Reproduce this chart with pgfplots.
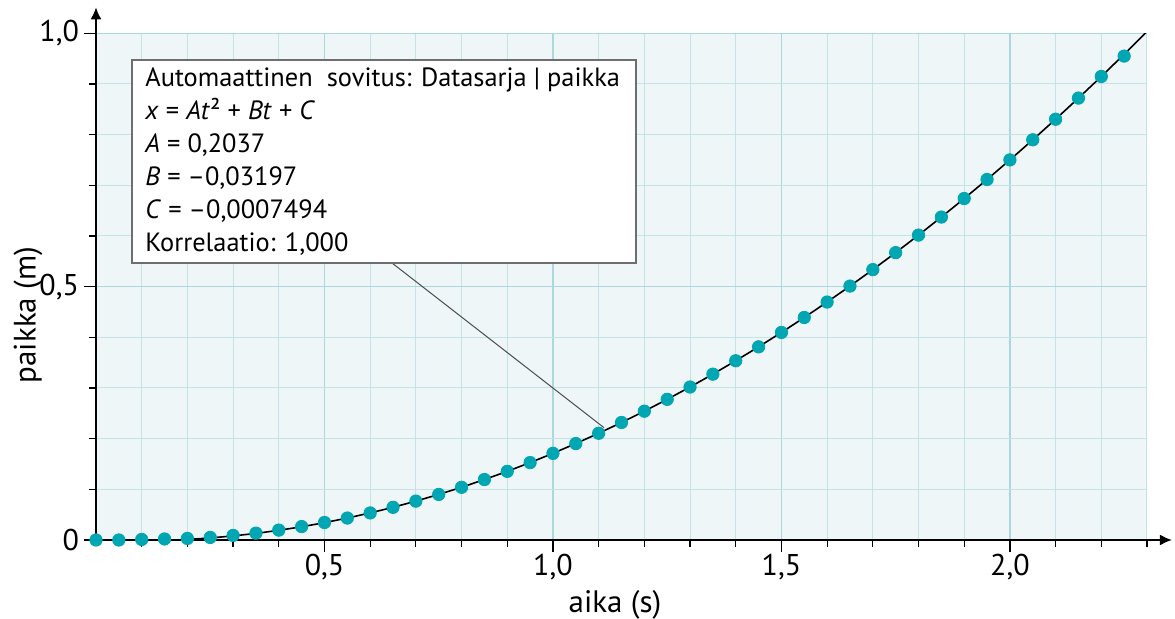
\documentclass[border=0pt]{standalone}
\usepackage{pgfplots}
\pgfplotsset{compat=1.18}
\usepackage{pgfplotstable}
\usepackage{fontspec}
\setmainfont{PT Sans}
\usetikzlibrary{arrows.meta}
\definecolor{bgcol}{RGB}{239,246,247}
\definecolor{gridminor}{RGB}{196,227,231}
\definecolor{gridmajor}{RGB}{172,215,221}
\definecolor{teal}{RGB}{0,166,178}
\definecolor{boxborder}{RGB}{110,110,110}

\pgfplotstableread{
t x
0 0.000
0.05 0.000
0.1 0.001
0.15 0.002
0.2 0.003
0.25 0.005
0.3 0.009
0.35 0.0135
0.4 0.0195
0.45 0.0265
0.5 0.0345
0.55 0.0433
0.6 0.0534
0.65 0.0645
0.7 0.0767
0.75 0.0899
0.8 0.1040
0.85 0.1193
0.9 0.1355
0.95 0.1527
1.0 0.1710
1.05 0.1903
1.1 0.2106
1.15 0.2319
1.2 0.2542
1.25 0.2776
1.3 0.3019
1.35 0.3273
1.4 0.3537
1.45 0.3812
1.5 0.4096
1.55 0.4391
1.6 0.4696
1.65 0.5011
1.7 0.5336
1.75 0.5671
1.8 0.6017
1.85 0.6373
1.9 0.6739
1.95 0.7115
2.0 0.7501
2.05 0.7898
2.1 0.8304
2.15 0.8721
2.2 0.9148
2.25 0.9550
}\datatable

\pgfplotstableread{
t x
0 -0.00075
0.05 -0.00184
0.1 -0.00191
0.15 -0.00096
0.2 0.0010
0.25 0.0040
0.3 0.0080
0.35 0.0130
0.4 0.0191
0.45 0.0261
0.5 0.0342
0.55 0.0433
0.6 0.0534
0.65 0.0645
0.7 0.0767
0.75 0.0899
0.8 0.1040
0.85 0.1193
0.9 0.1355
0.95 0.1527
1.0 0.1710
1.05 0.1903
1.1 0.2106
1.15 0.2319
1.2 0.2542
1.25 0.2776
1.3 0.3019
1.35 0.3273
1.4 0.3537
1.45 0.3812
1.5 0.4096
1.55 0.4391
1.6 0.4696
1.65 0.5011
1.7 0.5336
1.75 0.5671
1.8 0.6017
1.85 0.6373
1.9 0.6739
1.95 0.7115
2.0 0.7501
2.05 0.7898
2.1 0.8304
2.15 0.8721
2.2 0.9148
2.25 0.9586
2.3 1.0033
}\fittable

\begin{document}
\begin{tikzpicture}
\begin{axis}[
  at={(0,0)}, anchor=south west,
  scale only axis, width=525.5pt, height=253.35pt,
  xmin=0, xmax=2.3, ymin=0, ymax=1,
  axis lines=left,
  axis line style={line width=1pt, black},
  x axis line style={-{Latex[length=6pt,width=5.5pt]}, shorten >=-12.5pt},
  y axis line style={-{Latex[length=6pt,width=5.5pt]}, shorten >=-13pt},
  xtick={0.5,1,1.5,2}, xticklabels={{0,5},{1,0},{1,5},{2,0}},
  ytick={0,0.5,1}, yticklabels={{0},{0,5},{1,0}},
  minor xtick={0.1,0.2,0.3,0.4,0.6,0.7,0.8,0.9,1.1,1.2,1.3,1.4,1.6,1.7,1.8,1.9,2.1,2.2,2.3},
  minor ytick={0.1,0.2,0.3,0.4,0.6,0.7,0.8,0.9},
  grid=both,
  major grid style={color=gridmajor, line width=0.7pt},
  minor grid style={color=gridminor, line width=0.5pt},
  tick align=outside,
  major tick length=6pt, minor tick length=3.5pt,
  every tick/.style={black, line width=0.6pt},
  ticklabel style={font=\fontsize{15}{17}\selectfont},
  yticklabel style={xshift=1pt},
  xticklabel style={yshift=2.5pt},
  axis background/.style={fill=bgcol},
]
\addplot[black, line width=0.8pt, no markers] table[x=t, y=x] {\fittable};
\addplot[only marks, mark=*, mark size=3.1pt, color=teal, fill=teal, draw=teal] table[x=t, y=x] {\datatable};
\end{axis}
% annotation box
\draw[black!70, line width=0.5pt] (148pt,138.5pt) -- (254pt,56.15pt);
\draw[boxborder, fill=white, line width=0.8pt] (18pt,138.5pt) rectangle (270pt,240pt);
\begin{scope}[every node/.style={anchor=base west, inner sep=0pt, font=\fontsize{13.2}{15}\selectfont}]
\node at (24.5pt,226.65pt) {Automaattinen\ \ sovitus: Datasarja | paikka};
\node at (24.5pt,210.15pt) {\textit{x} = \textit{At}² + \textit{Bt} + \textit{C}};
\node at (24.5pt,193.65pt) {\textit{A} = 0,2037};
\node at (24.5pt,177.15pt) {\textit{B} = –0,03197};
\node at (24.5pt,160.65pt) {\textit{C} = –0,0007494};
\node at (24.5pt,144.15pt) {Korrelaatio: 1,000};
\end{scope}
% axis labels
\node[rotate=90, font=\fontsize{15.5}{18}\selectfont] at (-34pt,112.5pt) {paikka (m)};
\node[font=\fontsize{15.5}{18}\selectfont] at (259.5pt,-32.5pt) {aika (s)};
\pgfresetboundingbox
\path[use as bounding box] (-48pt,-39.5pt) rectangle (539.5pt,270pt);
\end{tikzpicture}
\end{document}
